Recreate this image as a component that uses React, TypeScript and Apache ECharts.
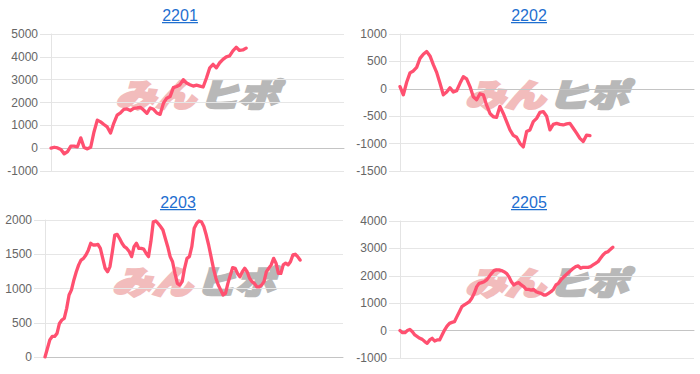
import React, { useEffect, useRef } from 'react';
import * as echarts from 'echarts';

// ---- data ----
const titles = ['2201', '2202', '2203', '2205'];

const values2201 = [
  0, 40, 10, -60, -250, -150, 90, 90, 60, 450, 30, -30, 40, 710, 1230, 1150, 1035, 930, 665, 1100,
  1450, 1550, 1700, 1720, 1650, 1740, 1760, 1790, 1670, 1525, 1760, 1700, 1540, 1480, 1970, 2190,
  2260, 2650, 2700, 2780, 3000, 2855, 2780, 2720, 2760, 2720, 2680, 3075, 3520, 3670, 3520, 3740,
  3890, 4000, 4040, 4260, 4420, 4280, 4300, 4380,
];

const values2202 = [
  40, -110, 120, 290, 325, 390, 555, 630, 680, 600, 440, 300, 100, -110, -60, 20, -60, -35, 100, 220,
  180, 40, -145, -200, -90, -110, -300, -450, -510, -520, -320, -450, -600, -750, -850, -885, -995,
  -1060, -780, -750, -600, -540, -430, -415, -500, -750, -650, -630, -650, -660, -640, -630, -720,
  -810, -905, -960, -845, -855,
];

const values2203 = [
  0, 125, 250, 300, 300, 345, 490, 540, 565, 710, 905, 980, 1125, 1245, 1345, 1415, 1440, 1490, 1560,
  1660, 1635, 1635, 1645, 1585, 1440, 1295, 1245, 1320, 1540, 1780, 1790, 1730, 1660, 1610, 1585,
  1540, 1465, 1610, 1660, 1585, 1585, 1575, 1515, 1465, 1685, 1975, 1985, 1950, 1905, 1855, 1730,
  1610, 1465, 1390, 1220, 1075, 1050, 1100, 1295, 1440, 1465, 1610, 1880, 1950, 1985, 1975, 1905,
  1780, 1635, 1465, 1295, 1150, 1050, 980, 905, 930, 1075, 1195, 1305, 1295, 1220, 1170, 1245, 1295,
  1245, 1150, 1100, 1075, 1025, 1025, 1050, 1100, 1245, 1295, 1345, 1440, 1370, 1220, 1220, 1345,
  1370, 1345, 1390, 1490, 1500, 1465, 1415,
];

const values2205 = [
  0, -75, -75, 0, 45, -40, -160, -220, -280, -320, -400, -465, -340, -280, -380, -340, -340, -160, 20,
  165, 265, 300, 325, 510, 690, 875, 935, 995, 1055, 1180, 1360, 1605, 1725, 1750, 1785, 1850, 1970,
  2090, 2190, 2215, 2215, 2190, 2150, 2090, 1970, 1785, 1665, 1725, 1750, 1665, 1605, 1505, 1505,
  1480, 1505, 1420, 1385, 1360, 1300, 1300, 1360, 1420, 1505, 1665, 1725, 1850, 1945, 2030, 2115,
  2190, 2275, 2335, 2360, 2275, 2310, 2310, 2310, 2335, 2395, 2455, 2515, 2640, 2760, 2845, 2880,
  2965, 3040,
];

const yMins = [-1000, -1500, 0, -1000];
const yMaxs = [5000, 1000, 2000, 4000];
const yIntervals = [1000, 500, 500, 1000];

const seriesValues = [values2201, values2202, values2203, values2205];

// ---- layout (not data) ----
const grids = [
  { left: 51, top: 34, width: 293, height: 137 },
  { left: 400, top: 34, width: 294, height: 137 },
  { left: 45, top: 220, width: 298, height: 137 },
  { left: 400, top: 221, width: 294, height: 137 },
];
const coverFractions = [0.666, 0.646, 0.856, 0.724];
const titlePos = [
  { x: 180, y: 15 },
  { x: 529, y: 15 },
  { x: 178, y: 202 },
  { x: 529, y: 202 },
];

const FONT = "'Liberation Sans', Arial, Helvetica, sans-serif";
const CJK = "'Noto Sans CJK JP', 'Noto Sans CJK SC', sans-serif";
const LINE_COLOR = '#ff5070';
const TITLE_COLOR = '#1f6fd0';

function buildOption() {
  const graphic: any[] = [];
  titles.forEach((t, i) => {
    const p = titlePos[i];
    graphic.push({
      type: 'text',
      x: p.x,
      y: p.y,
      z: 10,
      style: {
        text: t,
        fontSize: 16,
        fontFamily: FONT,
        fill: TITLE_COLOR,
        align: 'center',
        verticalAlign: 'middle',
      },
    });
    graphic.push({
      type: 'rect',
      z: 10,
      shape: { x: p.x - 18, y: p.y + 7, width: 36, height: 1.3 },
      style: { fill: TITLE_COLOR },
    });
    // watermark
    const g = grids[i];
    const cx = g.left + g.width / 2;
    const cy = g.top + (i < 2 ? 58.5 : 60);
    graphic.push({
      type: 'text',
      x: cx - 2,
      y: cy,
      scaleX: 1.25,
      z: 0,
      style: {
        text: 'みん',
        fontSize: 32,
        fontWeight: 900,
        fontStyle: 'italic',
        fontFamily: CJK,
        fill: '#f2bcbc',
        stroke: '#f2bcbc',
        lineWidth: 2.5,
        align: 'right',
        verticalAlign: 'middle',
      },
    });
    graphic.push({
      type: 'text',
      x: cx + 1,
      y: cy,
      scaleX: 1.25,
      z: 0,
      style: {
        text: 'ヒポ',
        fontSize: 32,
        fontWeight: 900,
        fontStyle: 'italic',
        fontFamily: CJK,
        fill: '#b8b8b8',
        stroke: '#b8b8b8',
        lineWidth: 2.5,
        align: 'left',
        verticalAlign: 'middle',
      },
    });
  });

  return {
    animation: false,
    backgroundColor: '#ffffff',
    grid: grids.map((g) => ({ ...g })),
    xAxis: seriesValues.map((vals, i) => ({
      type: 'value',
      gridIndex: i,
      min: 0,
      max: (vals.length - 1) / coverFractions[i],
      axisLabel: { show: false },
      axisTick: { show: false },
      splitLine: { show: false },
      axisLine: { show: true, onZero: true, lineStyle: { color: '#c4c4c4', width: 1 } },
    })),
    yAxis: seriesValues.map((_, i) => ({
      type: 'value',
      gridIndex: i,
      min: yMins[i],
      max: yMaxs[i],
      interval: yIntervals[i],
      axisLine: { show: true, lineStyle: { color: '#e4e4e4' } },
      axisTick: { show: true, length: 11, lineStyle: { color: '#e4e4e4' } },
      axisLabel: {
        color: '#666666',
        fontSize: 12,
        fontFamily: FONT,
        margin: 13,
        formatter: (v: number) => String(v),
      },
      splitLine: { show: true, lineStyle: { color: '#e6e6e6' } },
    })),
    graphic,
    series: seriesValues.map((vals, i) => ({
      type: 'line',
      xAxisIndex: i,
      yAxisIndex: i,
      data: vals.map((v, k) => [k, v]),
      symbol: 'none',
      z: 5,
      lineStyle: { color: LINE_COLOR, width: 3.3, cap: 'round', join: 'round' },
    })),
  };
}

export default function App() {
  const ref = useRef<HTMLDivElement>(null);
  useEffect(() => {
    if (!ref.current) return;
    const chart = echarts.init(ref.current, null, { renderer: 'svg' });
    chart.setOption(buildOption() as any);
    return () => chart.dispose();
  }, []);
  return (
    <div
      ref={ref}
      style={{ position: 'fixed', left: 0, top: 0, width: 700, height: 374, background: '#fff' }}
    />
  );
}
